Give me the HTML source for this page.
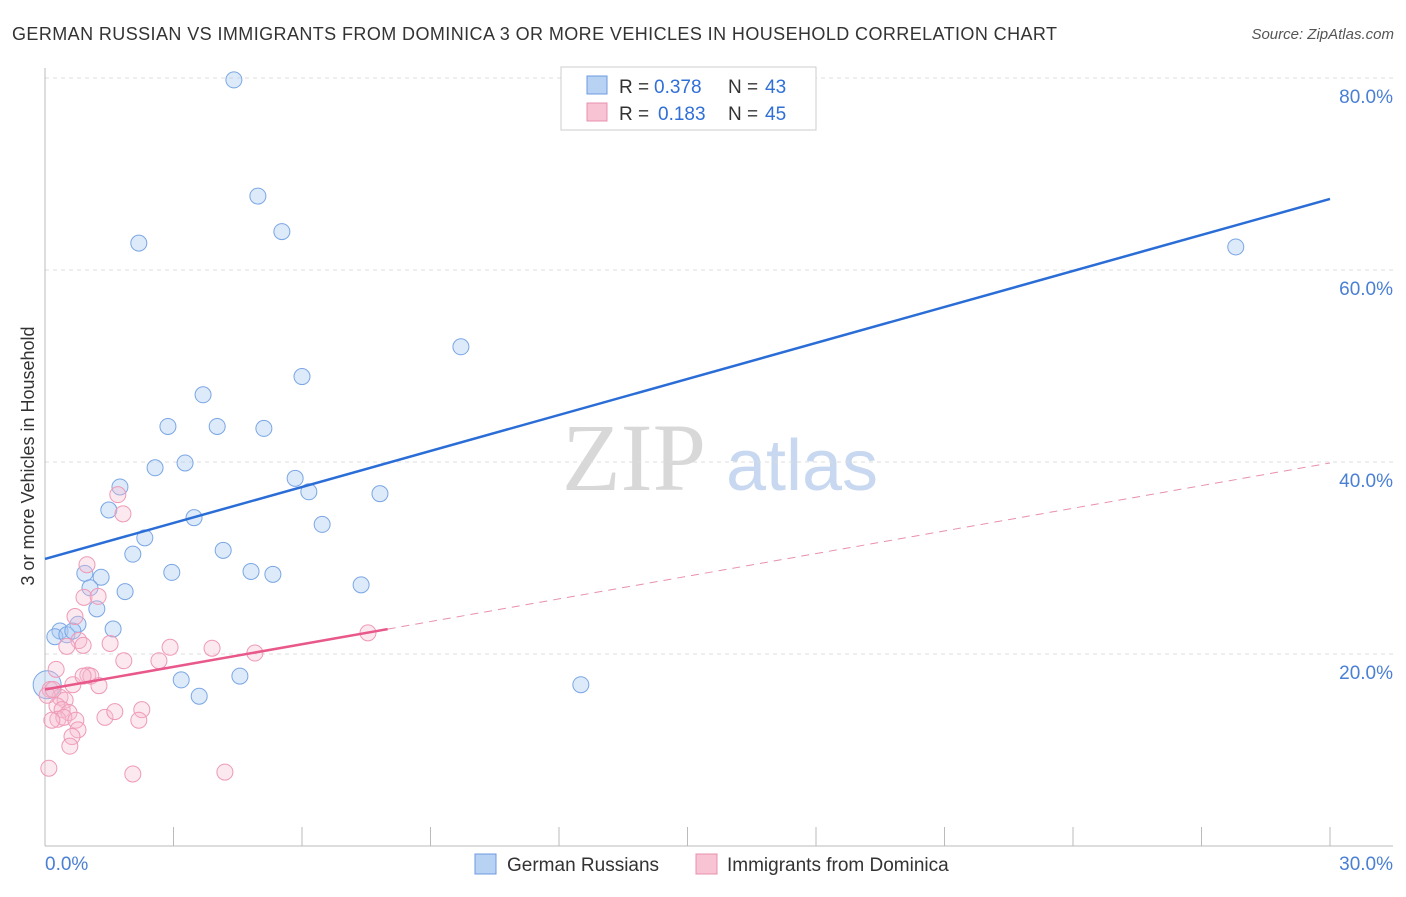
<!DOCTYPE html>
<html><head><meta charset="utf-8"><style>
body{margin:0;background:#fff;font-family:"Liberation Sans",sans-serif;}
svg text{font-family:"Liberation Sans",sans-serif;}
</style></head><body>
<svg width="1406" height="892" id="chart">
<text x="12" y="40" font-size="18" fill="#333" textLength="1045" lengthAdjust="spacing">GERMAN RUSSIAN VS IMMIGRANTS FROM DOMINICA 3 OR MORE VEHICLES IN HOUSEHOLD CORRELATION CHART</text>
<text x="1394" y="39" font-size="15" fill="#555" font-style="italic" text-anchor="end">Source: ZipAtlas.com</text>
<text x="634" y="490" font-size="96" fill="#d8d8d8" style="font-family:'Liberation Serif',serif" text-anchor="middle">ZIP</text>
<text x="802" y="490" font-size="72" fill="#c8d8f0" text-anchor="middle">atlas</text>
<text transform="translate(34,456) rotate(-90)" font-size="18" fill="#333" text-anchor="middle">3 or more Vehicles in Household</text>
<g id="grid"></g><g id="pts"></g><g id="lines"></g>
<g>
<rect x="561" y="67" width="255" height="63" fill="#fff" stroke="#ccc"/>
<rect x="587" y="76" width="20" height="18" fill="#b8d2f4" stroke="#6b9be0"/>
<rect x="587" y="103" width="20" height="18" fill="#f8c4d4" stroke="#e890ac"/>
<text x="619" y="93" font-size="19" fill="#333">R =</text><text x="654" y="93" font-size="19" fill="#2f6fd8">0.378</text>
<text x="728" y="93" font-size="19" fill="#333">N =</text><text x="765" y="93" font-size="19" fill="#2f6fd8">43</text>
<text x="619" y="120" font-size="19" fill="#333">R =</text><text x="658" y="120" font-size="19" fill="#2f6fd8">0.183</text>
<text x="728" y="120" font-size="19" fill="#333">N =</text><text x="765" y="120" font-size="19" fill="#2f6fd8">45</text>
</g>
<g>
<rect x="475" y="854" width="21" height="20" fill="#b8d2f4" stroke="#6b9be0"/>
<text x="507" y="871" font-size="19" fill="#333">German Russians</text>
<rect x="696" y="854" width="21" height="20" fill="#f8c4d4" stroke="#e890ac"/>
<text x="727" y="871" font-size="19" fill="#333">Immigrants from Dominica</text>
</g>
</svg>
<script>
const blueX=[4.41,4.97,2.19,5.53,27.8,9.71,6.0,3.69,2.87,4.02,5.11,3.27,2.57,5.84,1.75,6.16,7.82,1.49,3.48,6.47,2.33,2.05,4.16,0.93,1.31,2.96,4.81,5.32,7.38,1.05,1.87,1.21,0.77,1.59,0.35,0.23,0.51,0.65,3.18,4.55,3.6,12.51,0.05];
const blueY=[79.8,67.7,62.8,64.0,62.4,52.0,48.9,47.0,43.7,43.7,43.5,39.9,39.4,38.3,37.4,36.9,36.7,35.0,34.2,33.5,32.1,30.4,30.8,28.4,28.0,28.5,28.6,28.3,27.2,26.9,26.5,24.7,23.1,22.6,22.4,21.8,22.0,22.4,17.3,17.7,15.6,16.8,16.8];
const pinkX=[1.70,1.82,0.98,0.70,0.91,1.24,0.79,0.89,1.52,0.51,0.26,0.12,1.84,2.66,2.92,3.90,4.90,7.54,1.0,1.07,0.65,1.26,0.35,0.47,0.28,0.40,0.56,0.30,0.44,0.16,0.72,1.40,1.63,2.26,2.19,0.77,0.63,0.58,0.09,2.05,4.20,0.05,0.19,0.89];
const pinkY=[36.6,34.6,29.3,23.9,25.9,26.0,21.4,20.9,21.1,20.8,18.4,16.3,19.3,19.3,20.7,20.6,20.1,22.2,17.8,17.7,16.8,16.7,15.5,15.2,14.6,14.2,13.9,13.2,13.4,13.1,13.1,13.4,14.0,14.2,13.1,12.1,11.4,10.4,8.1,7.5,7.7,15.7,16.3,17.7];
const blueLine=[29.9,67.4];
const pinkLine=[16.3,39.9];
const pinkSolidEnd=8.0;
const yTicks=[20,40,60,80];
const xTicks=[0,3,6,9,12,15,18,21,24,27,30];
const NS="http://www.w3.org/2000/svg";
const sx=v=>45+v/30*1285, sy=v=>846-v/20*192;
function mk(tag,attrs,parent){const e=document.createElementNS(NS,tag);for(const k in attrs)e.setAttribute(k,attrs[k]);document.getElementById(parent).appendChild(e);return e;}
yTicks.forEach(t=>{const g=mk('line',{x1:45,x2:1393,y1:sy(t),y2:sy(t),stroke:'#ddd','stroke-dasharray':'4,4'},'grid');


const l=mk('text',{x:1393,y:sy(t)+25,'font-size':19,fill:'#4a7fd4','text-anchor':'end'},'grid');l.textContent=t.toFixed(1)+'%';

});
mk('line',{x1:45,x2:45,y1:68,y2:846,stroke:'#bbb'},'grid');
mk('line',{x1:45,x2:1393,y1:846,y2:846,stroke:'#bbb'},'grid');
xTicks.forEach(t=>{const k=mk('line',{x1:sx(t),x2:sx(t),y1:827,y2:846,stroke:'#bbb'},'grid');

});
[[0,'0.0%','start',45],[30,'30.0%','end',1393]].forEach(a=>{const l=mk('text',{x:a[3],y:870,'font-size':19,fill:'#4a7fd4','text-anchor':a[2]},'grid');l.textContent=a[1];

});
blueX.forEach((x,i)=>{const c=mk('circle',{cx:sx(x),cy:sy(blueY[i]),r:i==blueX.length-1?14:8,fill:'rgba(170,202,242,0.4)',stroke:'#7aa6e4','stroke-width':1},'pts');

});
pinkX.forEach((x,i)=>{const c=mk('circle',{cx:sx(x),cy:sy(pinkY[i]),r:8,fill:'rgba(246,190,208,0.35)',stroke:'#ee9ab6','stroke-width':1},'pts');

});
const bl=mk('line',{x1:sx(0),y1:sy(blueLine[0]),x2:sx(30),y2:sy(blueLine[1]),stroke:'#2a6dd6','stroke-width':2.5},'lines');


const pAt=x=>pinkLine[0]+(pinkLine[1]-pinkLine[0])*x/30;
const pd=mk('line',{x1:sx(pinkSolidEnd),y1:sy(pAt(pinkSolidEnd)),x2:sx(30),y2:sy(pinkLine[1]),stroke:'#e890ac','stroke-width':1,'stroke-dasharray':'8,6'},'lines');


const ps=mk('line',{x1:sx(0),y1:sy(pinkLine[0]),x2:sx(pinkSolidEnd),y2:sy(pAt(pinkSolidEnd)),stroke:'#e8588a','stroke-width':2.5},'lines');


</script>
</body></html>
